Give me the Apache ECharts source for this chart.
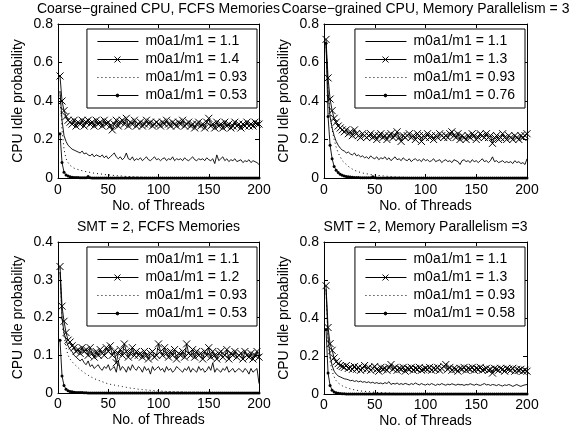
<!DOCTYPE html>
<html>
<head>
<meta charset="utf-8">
<title>CPU Idle probability</title>
<script src="https://cdn.jsdelivr.net/npm/echarts@6/dist/echarts.min.js"></script>
<style>
  html, body { margin: 0; padding: 0; background: #fff; }
  #main { width: 585px; height: 436px; }
</style>
</head>
<body>
<div id="main"></div>
<script>
// x values (No. of Threads)
var threads = [
  2, 4, 6, 8, 10, 12, 14, 16, 18, 20,
  22, 24, 26, 28, 30, 32, 34, 36, 38, 40,
  42, 44, 46, 48, 50, 52, 54, 56, 58, 60,
  62, 64, 66, 68, 70, 72, 74, 76, 78, 80,
  82, 84, 86, 88, 90, 92, 94, 96, 98, 100,
  102, 104, 106, 108, 110, 112, 114, 116, 118, 120,
  122, 124, 126, 128, 130, 132, 134, 136, 138, 140,
  142, 144, 146, 148, 150, 152, 154, 156, 158, 160,
  162, 164, 166, 168, 170, 172, 174, 176, 178, 180,
  182, 184, 186, 188, 190, 192, 194, 196, 198, 200
];

var panelTitles = [
  'Coarse\u2212grained CPU, FCFS Memories',
  'Coarse\u2212grained CPU, Memory Parallelism = 3',
  'SMT = 2, FCFS Memories',
  'SMT = 2, Memory Parallelism =3'
];
var ratioNames = [
  ['m0a1/m1 = 1.1', 'm0a1/m1 = 1.4', 'm0a1/m1 = 0.93', 'm0a1/m1 = 0.53'],
  ['m0a1/m1 = 1.1', 'm0a1/m1 = 1.3', 'm0a1/m1 = 0.93', 'm0a1/m1 = 0.76'],
  ['m0a1/m1 = 1.1', 'm0a1/m1 = 1.2', 'm0a1/m1 = 0.93', 'm0a1/m1 = 0.53'],
  ['m0a1/m1 = 1.1', 'm0a1/m1 = 1.3', 'm0a1/m1 = 0.93', 'm0a1/m1 = 0.58']
];
var yMax = [0.8, 0.8, 0.4, 0.8];
var yStep = [0.2, 0.2, 0.1, 0.2];

// ---- Coarse-grained CPU, FCFS Memories ----
var cgFcfsSolid = [
  0.45, 0.30, 0.22, 0.19, 0.17, 0.16, 0.15, 0.145, 0.14, 0.135,
  0.13, 0.14, 0.125, 0.13, 0.12, 0.115, 0.125, 0.11, 0.12, 0.115,
  0.11, 0.12, 0.105, 0.115, 0.10, 0.11, 0.12, 0.13, 0.11, 0.10,
  0.11, 0.095, 0.105, 0.13, 0.10, 0.095, 0.11, 0.09, 0.10, 0.095,
  0.105, 0.09, 0.10, 0.11, 0.095, 0.09, 0.10, 0.11, 0.095, 0.10,
  0.09, 0.10, 0.105, 0.09, 0.10, 0.095, 0.11, 0.09, 0.10, 0.095,
  0.10, 0.09, 0.105, 0.095, 0.09, 0.10, 0.11, 0.095, 0.09, 0.10,
  0.095, 0.10, 0.09, 0.105, 0.095, 0.09, 0.10, 0.075, 0.12, 0.09,
  0.10, 0.11, 0.09, 0.10, 0.085, 0.095, 0.09, 0.10, 0.085, 0.09,
  0.095, 0.08, 0.09, 0.085, 0.095, 0.08, 0.09, 0.085, 0.08, 0.07
];
var cgFcfsCross = [
  0.53, 0.40, 0.35, 0.32, 0.30, 0.29, 0.28, 0.30, 0.27, 0.29,
  0.28, 0.30, 0.27, 0.29, 0.30, 0.28, 0.29, 0.27, 0.30, 0.28,
  0.29, 0.27, 0.30, 0.28, 0.29, 0.27, 0.25, 0.28, 0.30, 0.27,
  0.29, 0.30, 0.28, 0.31, 0.27, 0.29, 0.28, 0.30, 0.27, 0.28,
  0.29, 0.27, 0.28, 0.30, 0.28, 0.29, 0.27, 0.28, 0.29, 0.28,
  0.27, 0.29, 0.28, 0.30, 0.28, 0.27, 0.29, 0.28, 0.27, 0.29,
  0.28, 0.30, 0.27, 0.28, 0.29, 0.27, 0.28, 0.26, 0.28, 0.29,
  0.27, 0.28, 0.26, 0.29, 0.31, 0.27, 0.28, 0.26, 0.29, 0.27,
  0.28, 0.26, 0.29, 0.27, 0.28, 0.26, 0.27, 0.29, 0.27, 0.28,
  0.26, 0.28, 0.27, 0.29, 0.27, 0.28, 0.27, 0.29, 0.28, 0.28
];
var cgFcfsDotted = [
  0.45, 0.25, 0.15, 0.10, 0.08, 0.066, 0.057, 0.051, 0.047, 0.044,
  0.041, 0.038, 0.035, 0.033, 0.031, 0.029, 0.027, 0.025, 0.024, 0.022,
  0.021, 0.02, 0.018, 0.017, 0.016, 0.015, 0.014, 0.013, 0.012, 0.011,
  0.011, 0.01, 0.009, 0.008, 0.008, 0.007, 0.006, 0.006, 0.005, 0.005,
  0.004, 0.004, 0.004, 0.003, 0.003, 0.003, 0.002, 0.002, 0.002, 0.002,
  0.002, 0.001, 0.001, 0.001, 0.001, 0.001, 0.001, 0, 0, 0,
  0, 0, 0, 0, 0, 0, 0, 0, 0, 0,
  0, 0, 0, 0, 0, 0, 0, 0, 0, 0,
  0, 0, 0, 0, 0, 0, 0, 0, 0, 0,
  0, 0, 0, 0, 0, 0, 0, 0, 0, 0
];
var cgFcfsDot = [
  0.23, 0.08, 0.03, 0.015, 0.01, 0.006, 0.004, 0.003, 0.002, 0.002,
  0.001, 0.001, 0.001, 0.001, 0.008, 0.001, 0, 0, 0, 0,
  0, 0, 0, 0, 0, 0, 0, 0, 0, 0,
  0, 0, 0, 0, 0, 0, 0, 0, 0, 0,
  0, 0, 0, 0, 0, 0, 0, 0, 0, 0,
  0, 0, 0, 0, 0, 0, 0, 0, 0, 0,
  0, 0, 0, 0, 0, 0, 0, 0, 0, 0,
  0, 0, 0, 0, 0, 0, 0, 0, 0, 0,
  0, 0, 0, 0, 0, 0, 0, 0, 0, 0,
  0, 0, 0, 0, 0, 0, 0, 0, 0, 0
];

// ---- Coarse-grained CPU, Memory Parallelism = 3 ----
var cgMpSolid = [
  0.70, 0.45, 0.32, 0.26, 0.22, 0.19, 0.17, 0.155, 0.145, 0.14,
  0.13, 0.135, 0.125, 0.12, 0.13, 0.115, 0.12, 0.11, 0.115, 0.105,
  0.11, 0.10, 0.115, 0.105, 0.10, 0.11, 0.095, 0.105, 0.10, 0.11,
  0.095, 0.105, 0.09, 0.10, 0.11, 0.095, 0.10, 0.09, 0.105, 0.095,
  0.09, 0.10, 0.085, 0.095, 0.10, 0.09, 0.095, 0.085, 0.10, 0.09,
  0.095, 0.085, 0.09, 0.10, 0.085, 0.09, 0.095, 0.08, 0.09, 0.095,
  0.085, 0.09, 0.08, 0.095, 0.09, 0.085, 0.07, 0.09, 0.095, 0.085,
  0.09, 0.08, 0.095, 0.085, 0.09, 0.08, 0.09, 0.10, 0.085, 0.09,
  0.08, 0.09, 0.11, 0.085, 0.09, 0.08, 0.085, 0.09, 0.08, 0.085,
  0.08, 0.085, 0.075, 0.09, 0.08, 0.085, 0.075, 0.08, 0.07, 0.10
];
var cgMpCross = [
  0.72, 0.52, 0.41, 0.35, 0.31, 0.29, 0.27, 0.26, 0.25, 0.24,
  0.25, 0.23, 0.24, 0.22, 0.25, 0.23, 0.22, 0.21, 0.23, 0.22,
  0.21, 0.22, 0.23, 0.21, 0.22, 0.20, 0.22, 0.23, 0.21, 0.22,
  0.20, 0.22, 0.23, 0.21, 0.22, 0.24, 0.21, 0.19, 0.22, 0.21,
  0.22, 0.23, 0.21, 0.22, 0.20, 0.23, 0.22, 0.19, 0.22, 0.21,
  0.23, 0.21, 0.22, 0.20, 0.22, 0.21, 0.23, 0.22, 0.21, 0.22,
  0.21, 0.23, 0.24, 0.22, 0.21, 0.23, 0.20, 0.22, 0.21, 0.20,
  0.22, 0.21, 0.23, 0.22, 0.20, 0.21, 0.23, 0.22, 0.21, 0.23,
  0.21, 0.22, 0.18, 0.21, 0.22, 0.20, 0.21, 0.23, 0.21, 0.20,
  0.22, 0.21, 0.20, 0.22, 0.21, 0.20, 0.22, 0.21, 0.22, 0.23
];
var cgMpDotted = [
  0.70, 0.45, 0.33, 0.25, 0.20, 0.16, 0.13, 0.11, 0.09, 0.08,
  0.07, 0.06, 0.052, 0.046, 0.04, 0.036, 0.032, 0.029, 0.026, 0.024,
  0.022, 0.02, 0.018, 0.016, 0.015, 0.014, 0.013, 0.012, 0.011, 0.01,
  0.009, 0.008, 0.007, 0.007, 0.006, 0.005, 0.005, 0.004, 0.004, 0.003,
  0.003, 0.003, 0.002, 0.002, 0.002, 0.002, 0.001, 0.001, 0.001, 0.001,
  0, 0, 0, 0, 0, 0, 0, 0, 0, 0,
  0, 0, 0, 0, 0, 0, 0, 0, 0, 0,
  0, 0, 0, 0, 0, 0, 0, 0, 0, 0,
  0, 0, 0, 0, 0, 0, 0, 0, 0, 0,
  0, 0, 0, 0, 0, 0, 0, 0, 0, 0
];
var cgMpDot = [
  0.70, 0.32, 0.17, 0.10, 0.06, 0.04, 0.028, 0.02, 0.014, 0.01,
  0.008, 0.006, 0.005, 0.004, 0.003, 0.002, 0.002, 0.001, 0.001, 0.001,
  0.001, 0.001, 0.001, 0.006, 0.001, 0, 0, 0, 0, 0,
  0, 0, 0, 0, 0, 0, 0, 0, 0, 0,
  0, 0, 0, 0, 0, 0, 0, 0, 0, 0,
  0, 0, 0, 0, 0, 0, 0, 0, 0, 0,
  0, 0, 0, 0, 0, 0, 0, 0, 0, 0,
  0, 0, 0, 0, 0, 0, 0, 0, 0, 0,
  0, 0, 0, 0, 0, 0, 0, 0, 0, 0,
  0, 0, 0, 0, 0, 0, 0, 0, 0, 0
];

// ---- SMT = 2, FCFS Memories ----
var smtFcfsSolid = [
  0.32, 0.20, 0.16, 0.14, 0.125, 0.115, 0.11, 0.10, 0.095, 0.09,
  0.085, 0.09, 0.08, 0.075, 0.085, 0.07, 0.075, 0.065, 0.07, 0.075,
  0.065, 0.06, 0.07, 0.065, 0.075, 0.06, 0.065, 0.07, 0.055, 0.085,
  0.06, 0.07, 0.065, 0.055, 0.07, 0.06, 0.075, 0.065, 0.06, 0.07,
  0.065, 0.055, 0.07, 0.06, 0.065, 0.05, 0.07, 0.06, 0.065, 0.07,
  0.06, 0.065, 0.055, 0.07, 0.06, 0.065, 0.055, 0.06, 0.07, 0.065,
  0.06, 0.055, 0.065, 0.06, 0.07, 0.055, 0.065, 0.06, 0.055, 0.07,
  0.06, 0.065, 0.055, 0.06, 0.07, 0.06, 0.08, 0.055, 0.065, 0.06,
  0.055, 0.065, 0.06, 0.07, 0.055, 0.06, 0.065, 0.055, 0.06, 0.065,
  0.06, 0.055, 0.065, 0.06, 0.05, 0.065, 0.055, 0.06, 0.065, 0.025
];
var smtFcfsCross = [
  0.335, 0.23, 0.19, 0.16, 0.14, 0.135, 0.125, 0.12, 0.11, 0.115,
  0.105, 0.12, 0.11, 0.115, 0.10, 0.12, 0.105, 0.095, 0.11, 0.10,
  0.115, 0.105, 0.10, 0.12, 0.11, 0.125, 0.10, 0.11, 0.08, 0.105,
  0.115, 0.10, 0.13, 0.11, 0.095, 0.105, 0.12, 0.10, 0.11, 0.10,
  0.105, 0.095, 0.11, 0.10, 0.09, 0.105, 0.11, 0.095, 0.10, 0.13,
  0.11, 0.10, 0.12, 0.105, 0.095, 0.11, 0.10, 0.115, 0.09, 0.105,
  0.10, 0.11, 0.095, 0.13, 0.105, 0.10, 0.115, 0.095, 0.11, 0.10,
  0.105, 0.09, 0.11, 0.10, 0.12, 0.095, 0.11, 0.10, 0.09, 0.105,
  0.11, 0.095, 0.10, 0.115, 0.09, 0.105, 0.10, 0.11, 0.095, 0.10,
  0.105, 0.09, 0.11, 0.10, 0.095, 0.105, 0.09, 0.10, 0.11, 0.095
];
var smtFcfsDotted = [
  0.33, 0.20, 0.15, 0.12, 0.10, 0.09, 0.083, 0.077, 0.072, 0.067,
  0.062, 0.058, 0.054, 0.05, 0.047, 0.044, 0.041, 0.038, 0.036, 0.034,
  0.032, 0.03, 0.028, 0.026, 0.024, 0.023, 0.022, 0.021, 0.02, 0.019,
  0.018, 0.017, 0.016, 0.015, 0.014, 0.013, 0.012, 0.012, 0.011, 0.01,
  0.01, 0.009, 0.009, 0.008, 0.008, 0.007, 0.007, 0.006, 0.006, 0.006,
  0.005, 0.005, 0.005, 0.004, 0.004, 0.004, 0.004, 0.003, 0.003, 0.003,
  0.003, 0.003, 0.002, 0.002, 0.002, 0.002, 0.002, 0.002, 0.002, 0.002,
  0.001, 0.001, 0.001, 0.001, 0.001, 0.001, 0.001, 0.001, 0.001, 0.001,
  0.001, 0.001, 0.001, 0.001, 0.001, 0, 0, 0, 0, 0,
  0, 0, 0, 0, 0, 0, 0, 0, 0, 0
];
var smtFcfsDot = [
  0.14, 0.045, 0.02, 0.01, 0.006, 0.004, 0.003, 0.002, 0.0015, 0.001,
  0.001, 0.001, 0.0005, 0.0005, 0, 0, 0, 0, 0, 0,
  0, 0, 0, 0, 0, 0, 0, 0, 0, 0,
  0, 0, 0, 0, 0, 0, 0, 0, 0, 0,
  0, 0, 0, 0, 0, 0, 0, 0, 0, 0,
  0, 0, 0, 0, 0, 0, 0, 0, 0, 0,
  0, 0, 0, 0, 0, 0, 0, 0, 0, 0,
  0, 0, 0, 0, 0, 0, 0, 0, 0, 0,
  0, 0, 0, 0, 0, 0, 0, 0, 0, 0,
  0, 0, 0, 0, 0, 0, 0, 0, 0, 0
];

// ---- SMT = 2, Memory Parallelism = 3 ----
var smtMpSolid = [
  0.55, 0.30, 0.20, 0.15, 0.12, 0.105, 0.095, 0.09, 0.085, 0.08,
  0.078, 0.075, 0.07, 0.072, 0.066, 0.07, 0.064, 0.068, 0.062, 0.065,
  0.06, 0.064, 0.058, 0.062, 0.056, 0.06, 0.055, 0.058, 0.053, 0.06,
  0.055, 0.065, 0.05, 0.056, 0.052, 0.058, 0.05, 0.055, 0.05, 0.056,
  0.052, 0.048, 0.055, 0.05, 0.058, 0.052, 0.048, 0.055, 0.05, 0.047,
  0.053, 0.048, 0.055, 0.05, 0.045, 0.052, 0.048, 0.055, 0.05, 0.046,
  0.052, 0.048, 0.054, 0.05, 0.046, 0.052, 0.048, 0.05, 0.045, 0.05,
  0.048, 0.054, 0.05, 0.046, 0.052, 0.048, 0.045, 0.05, 0.055, 0.048,
  0.05, 0.045, 0.05, 0.048, 0.044, 0.05, 0.045, 0.042, 0.048, 0.045,
  0.05, 0.046, 0.04, 0.045, 0.05, 0.044, 0.04, 0.045, 0.048, 0.05
];
var smtMpCross = [
  0.57, 0.35, 0.265, 0.23, 0.19, 0.17, 0.16, 0.15, 0.145, 0.14,
  0.15, 0.135, 0.14, 0.13, 0.145, 0.13, 0.14, 0.125, 0.135, 0.15,
  0.13, 0.14, 0.125, 0.135, 0.145, 0.13, 0.12, 0.14, 0.13, 0.135,
  0.125, 0.14, 0.155, 0.13, 0.14, 0.125, 0.135, 0.13, 0.14, 0.12,
  0.135, 0.13, 0.14, 0.125, 0.135, 0.13, 0.14, 0.125, 0.13, 0.135,
  0.13, 0.14, 0.125, 0.135, 0.13, 0.14, 0.125, 0.135, 0.145, 0.155,
  0.13, 0.14, 0.125, 0.135, 0.13, 0.12, 0.135, 0.13, 0.14, 0.125,
  0.135, 0.13, 0.14, 0.125, 0.135, 0.13, 0.14, 0.125, 0.13, 0.135,
  0.125, 0.13, 0.11, 0.135, 0.13, 0.125, 0.135, 0.13, 0.12, 0.135,
  0.13, 0.125, 0.135, 0.12, 0.13, 0.125, 0.13, 0.12, 0.125, 0.12
];
var smtMpDotted = [
  0.55, 0.28, 0.17, 0.12, 0.09, 0.07, 0.058, 0.05, 0.043, 0.038,
  0.034, 0.03, 0.027, 0.024, 0.022, 0.02, 0.018, 0.016, 0.015, 0.014,
  0.013, 0.012, 0.011, 0.01, 0.009, 0.008, 0.008, 0.007, 0.006, 0.006,
  0.005, 0.005, 0.004, 0.004, 0.003, 0.003, 0.003, 0.002, 0.002, 0.002,
  0.001, 0.001, 0.001, 0.001, 0.001, 0, 0, 0, 0, 0,
  0, 0, 0, 0, 0, 0, 0, 0, 0, 0,
  0, 0, 0, 0, 0, 0, 0, 0, 0, 0,
  0, 0, 0, 0, 0, 0, 0, 0, 0, 0,
  0, 0, 0, 0, 0, 0, 0, 0, 0, 0,
  0, 0, 0, 0, 0, 0, 0, 0, 0, 0
];
var smtMpDot = [
  0.34, 0.11, 0.045, 0.02, 0.01, 0.006, 0.004, 0.002, 0.001, 0.001,
  0, 0, 0, 0, 0, 0, 0, 0, 0, 0,
  0, 0, 0, 0, 0, 0, 0, 0, 0, 0,
  0, 0, 0, 0, 0, 0, 0, 0, 0, 0,
  0, 0, 0, 0, 0, 0, 0, 0, 0, 0,
  0, 0, 0, 0, 0, 0, 0, 0, 0, 0,
  0, 0, 0, 0, 0, 0, 0, 0, 0, 0,
  0, 0, 0, 0, 0, 0, 0, 0, 0, 0,
  0, 0, 0, 0, 0, 0, 0, 0, 0, 0,
  0, 0, 0, 0, 0, 0, 0, 0, 0, 0
];

var panelData = [
  [cgFcfsSolid, cgFcfsCross, cgFcfsDotted, cgFcfsDot],
  [cgMpSolid, cgMpCross, cgMpDotted, cgMpDot],
  [smtFcfsSolid, smtFcfsCross, smtFcfsDotted, smtFcfsDot],
  [smtMpSolid, smtMpCross, smtMpDotted, smtMpDot]
];

// layout of the 2x2 panels (px)
var boxes = [
  { left: 58, top: 24, width: 201, height: 154 },
  { left: 324, top: 24, width: 203, height: 154 },
  { left: 58, top: 242, width: 201, height: 151 },
  { left: 324, top: 242, width: 203, height: 152 }
];

var FONT = 'Liberation Sans, Arial, Helvetica, sans-serif';
var crossPath = 'path://M0,0L10,10M10,0L0,10';

// legend samples: corner points keep the icon box at 44x14
var iconLine = 'path://M0,0L0,0M1,7L42,7M44,14L44,14';
var iconCross = 'path://M0,0L0,0M1,7L42,7M18,4L24,10M24,4L18,10M44,14L44,14';
var iconDot = 'path://M0,0L0,0M1,7L42,7M19.6,7A1.4,1.4,0,1,0,22.4,7A1.4,1.4,0,1,0,19.6,7M44,14L44,14';

function pairs(vals) {
  return threads.map(function (t, i) { return [t, vals[i]]; });
}

function legendItems(names) {
  var st = { color: '#000', borderColor: '#000', borderWidth: 1 };
  return [
    { name: names[0], icon: iconLine, itemStyle: st },
    { name: names[1], icon: iconCross, itemStyle: st },
    { name: names[2], icon: iconLine, itemStyle: { color: '#000', borderColor: '#000', borderWidth: 1, borderType: [1, 3] } },
    { name: names[3], icon: iconDot, itemStyle: st }
  ];
}

var chart = echarts.init(document.getElementById('main'), null, { renderer: 'canvas' });

var option = {
  animation: false,
  backgroundColor: '#fff',
  textStyle: { fontFamily: FONT, color: '#000' },
  title: [],
  legend: [],
  grid: [],
  xAxis: [],
  yAxis: [],
  series: []
};

boxes.forEach(function (b, p) {
  option.grid.push({ left: b.left, top: b.top, width: b.width, height: b.height, containLabel: false });

  option.title.push({
    text: panelTitles[p],
    left: b.left + b.width / 2,
    top: p < 2 ? 2 : 220,
    textAlign: 'center',
    padding: 0,
    textStyle: { fontSize: 14, fontWeight: 'normal', color: '#000', fontFamily: FONT }
  });

  option.legend.push({
    data: legendItems(ratioNames[p]),
    orient: 'vertical',
    right: 585 - (b.left + b.width - 2),
    top: b.top + 5,
    itemWidth: 44,
    itemHeight: 14,
    itemGap: 3,
    padding: [5, 10, 5, 9],
    borderColor: '#000',
    borderWidth: 1,
    backgroundColor: '#fff',
    selectedMode: false,
    textStyle: { fontSize: 14, color: '#000', fontFamily: FONT }
  });

  var lineAx = { show: true, onZero: false, lineStyle: { color: '#000', width: 1 } };
  var tickIn = { show: true, inside: true, length: 4, lineStyle: { color: '#000' } };

  // bottom x axis with labels, top mirror for the box
  option.xAxis.push({
    gridIndex: p, type: 'value', min: 0, max: 200, interval: 50,
    position: 'bottom',
    name: 'No. of Threads', nameLocation: 'middle', nameGap: p < 2 ? 21 : 20,
    nameTextStyle: { fontSize: 14, color: '#000', fontFamily: FONT },
    axisLine: lineAx, axisTick: tickIn,
    axisLabel: { fontSize: 14, color: '#000', margin: p < 2 ? 5 : 4 },
    splitLine: { show: false }
  });
  option.xAxis.push({
    gridIndex: p, type: 'value', min: 0, max: 200, interval: 50,
    position: 'top',
    axisLine: lineAx, axisTick: tickIn,
    axisLabel: { show: false }, splitLine: { show: false }
  });

  option.yAxis.push({
    gridIndex: p, type: 'value', min: 0, max: yMax[p], interval: yStep[p],
    position: 'left',
    name: 'CPU Idle probability', nameLocation: 'middle', nameGap: 33,
    nameTextStyle: { fontSize: 14, color: '#000', fontFamily: FONT },
    axisLine: lineAx, axisTick: tickIn,
    axisLabel: { fontSize: 14, color: '#000', margin: 5 },
    splitLine: { show: false }
  });
  option.yAxis.push({
    gridIndex: p, type: 'value', min: 0, max: yMax[p], interval: yStep[p],
    position: 'right',
    axisLine: lineAx, axisTick: tickIn,
    axisLabel: { show: false }, splitLine: { show: false }
  });

  var vals = panelData[p];
  var names = ratioNames[p];
  var xi = p * 2, yi = p * 2;

  // solid line
  option.series.push({
    name: names[0], type: 'line', xAxisIndex: xi, yAxisIndex: yi,
    data: pairs(vals[0]), symbol: 'none',
    lineStyle: { color: '#000', width: 0.9 },
    itemStyle: { color: '#000' }
  });
  // line with x markers
  option.series.push({
    name: names[1], type: 'line', xAxisIndex: xi, yAxisIndex: yi,
    data: pairs(vals[1]), symbol: crossPath, symbolSize: 7, showSymbol: true,
    lineStyle: { color: '#000', width: 0.9 },
    itemStyle: { color: '#000', borderColor: '#000', borderWidth: 1 }
  });
  // dotted
  option.series.push({
    name: names[2], type: 'line', xAxisIndex: xi, yAxisIndex: yi,
    data: pairs(vals[2]), symbol: 'none',
    lineStyle: { color: '#000', width: 1, type: [1, 3] },
    itemStyle: { color: '#000' }
  });
  // line with dot markers
  option.series.push({
    name: names[3], type: 'line', xAxisIndex: xi, yAxisIndex: yi,
    data: pairs(vals[3]), symbol: 'circle', symbolSize: 3, showSymbol: true,
    lineStyle: { color: '#000', width: 0.9 },
    itemStyle: { color: '#000', borderWidth: 0 }
  });
});

chart.setOption(option);
</script>
</body>
</html>
